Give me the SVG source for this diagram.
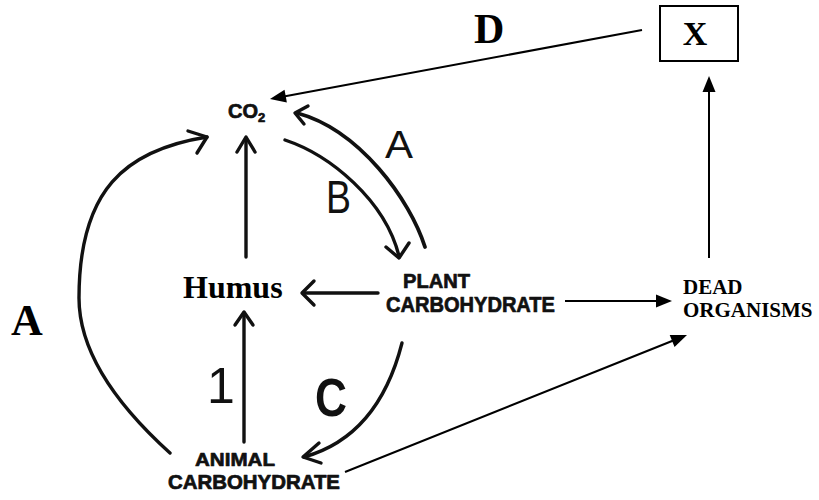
<svg xmlns="http://www.w3.org/2000/svg" width="819" height="500" viewBox="0 0 819 500">
<defs>
<style>
.hand{fill:none;stroke:#111;stroke-width:3.4;stroke-linecap:round;stroke-linejoin:round}
.thick{stroke-width:3.8}
.thin{fill:none;stroke:#000;stroke-width:2}
.serif{font-family:"Liberation Serif","Times New Roman",serif;font-weight:bold;fill:#000}
.sans{font-family:"Liberation Sans",Arial,sans-serif;fill:#111}
.b{font-weight:bold}
.heavy{font-weight:bold;stroke:#111;stroke-width:0.7;stroke-linejoin:round}
</style>
<marker id="solid" markerUnits="userSpaceOnUse" viewBox="-8 -8 20 16" refX="0" refY="0" markerWidth="20" markerHeight="16" orient="auto" overflow="visible">
<path d="M-6,-6.5 L10,0 L-6,6.5 Z" fill="#000"/>
</marker>
</defs>
<rect width="819" height="500" fill="#fff"/>

<g id="connectors">
<path class="thin" d="M642,30 L279.8,97.2" marker-end="url(#solid)"/>
<path class="thin" d="M709,258 L709,86" marker-end="url(#solid)"/>
<path class="thin" d="M565,301 L662,301" marker-end="url(#solid)"/>
<path class="thin" d="M345,472 L677.7,338.7" marker-end="url(#solid)"/>
<path class="hand" d="M170,453 C128,415 79,360 79,298 C79,190 125,150 207,137"/>
<path class="hand" d="M188,131 L207,137 L197,153"/>
<path class="hand" d="M246,257 L246,138"/>
<path class="hand" d="M237,152 L246,137 L255,152"/>
<path class="hand" d="M285,140 C330,155 385,200 399,256"/>
<path class="hand" d="M386,247 L399,258 L409,243"/>
<path class="hand thick" d="M425,247 C410,200 360,130 297,113"/>
<path class="hand" d="M308,106 L295,113 L304,124"/>
<path class="hand" d="M378,293 L303,293"/>
<path class="hand" d="M314,281 L302,293 L314,305"/>
<path class="hand" d="M244,442 L244,313"/>
<path class="hand" d="M235,325 L244,312 L253,325"/>
<path class="hand" d="M402,343 C390,390 365,440 304,457"/>
<path class="hand" d="M319,443 L303,457 L321,463"/>
</g>

<g id="co2">
<text class="sans heavy" x="228" y="118" font-size="20" stroke-width="0.5">CO<tspan font-size="13" dy="4">2</tspan></text>
</g>
<g id="humus">
<text class="serif" x="183" y="298" font-size="32">Humus</text>
</g>
<g id="plant-carbohydrate">
<text class="sans heavy" x="403" y="288" font-size="20" textLength="67" lengthAdjust="spacingAndGlyphs">PLANT</text>
<text class="sans heavy" x="386" y="312" font-size="22" textLength="169" lengthAdjust="spacingAndGlyphs">CARBOHYDRATE</text>
</g>
<g id="animal-carbohydrate">
<text class="sans heavy" x="195" y="466" font-size="19" textLength="80" lengthAdjust="spacingAndGlyphs">ANIMAL</text>
<text class="sans heavy" x="168" y="489" font-size="19.5" textLength="172" lengthAdjust="spacingAndGlyphs">CARBOHYDRATE</text>
</g>
<g id="dead-organisms">
<text class="serif" x="683" y="294" font-size="21">DEAD</text>
<text class="serif" x="683" y="317" font-size="21">ORGANISMS</text>
</g>
<g id="x">
<rect x="660" y="6" width="78" height="55" fill="#fff" stroke="#000" stroke-width="2"/>
<text class="serif" x="695" y="45" font-size="34" text-anchor="middle">X</text>
</g>

<g id="labels">
<text class="serif" x="474" y="43" font-size="42">D</text>
<text class="serif" x="11" y="335" font-size="44">A</text>
<text class="sans" x="385" y="158" font-size="39" textLength="28" lengthAdjust="spacingAndGlyphs">A</text>
<text class="sans" x="326" y="213" font-size="46" textLength="25" lengthAdjust="spacingAndGlyphs">B</text>
<text class="sans b" x="315" y="416" font-size="53" textLength="32" lengthAdjust="spacingAndGlyphs">C</text>
<text class="sans" x="207" y="403" font-size="50">1</text>
</g>
</svg>
